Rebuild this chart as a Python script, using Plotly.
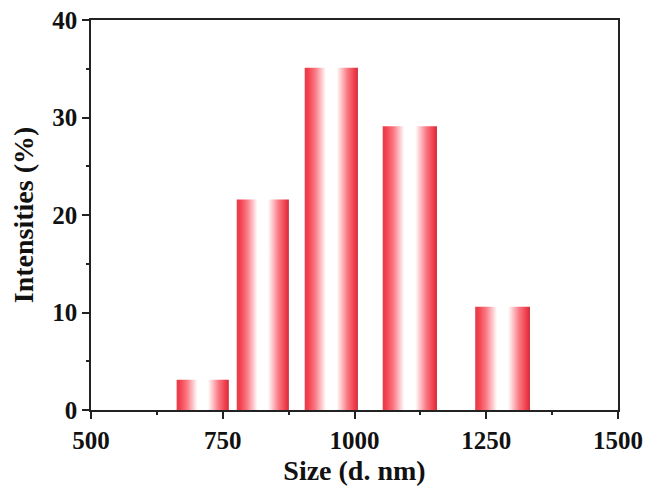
import plotly.graph_objects as go

# Particle size distribution (DLS), intensity-weighted
sizes = [712, 826, 956, 1105, 1281]          # bin centres, d. nm
widths = [99, 99, 101, 103, 104]             # bin widths, d. nm
intensities = [3.1, 21.6, 35.1, 29.1, 10.6]  # %

x_ticks = [500, 750, 1000, 1250, 1500]
y_ticks = [0, 10, 20, 30, 40]

# red - white - red shading across each bar
shade = [
    [0.0, "#e0404c"],
    [0.06, "#f43e4c"],
    [0.2, "#f97a84"],
    [0.4, "#ffffff"],
    [0.6, "#ffffff"],
    [0.8, "#f97a84"],
    [0.94, "#f03a48"],
    [1.0, "#c8303e"],
]

fig = go.Figure()
for c, w, h in zip(sizes, widths, intensities):
    x0, x1 = c - w / 2, c + w / 2
    fig.add_trace(go.Scatter(
        x=[x0, x0, x1, x1, x0],
        y=[0, h, h, 0, 0],
        mode="lines",
        line=dict(width=0),
        fill="toself",
        fillgradient=dict(type="horizontal", colorscale=shade),
        hoverinfo="skip",
        showlegend=False,
    ))

font_family = "Liberation Serif"
axis_common = dict(
    showline=True,
    linecolor="#222222",
    linewidth=1.5,
    mirror=True,
    ticks="outside",
    ticklen=7,
    tickwidth=1.5,
    tickcolor="#222222",
    showgrid=False,
    zeroline=False,
    automargin=False,
    tickfont=dict(family=font_family, size=25, color="#111111", weight="bold"),
)

fig.update_xaxes(
    range=[500, 1500],
    tickvals=x_ticks,
    ticktext=[str(v) for v in x_ticks],
    minor=dict(ticks="outside", dtick=125, tick0=500, ticklen=3, tickwidth=1.5,
               tickcolor="#222222", showgrid=False),
    title=dict(text="Size (d. nm)", standoff=8,
               font=dict(family=font_family, size=28, color="#111111", weight="bold")),
    **axis_common,
)
fig.update_yaxes(
    range=[0, 40],
    tickvals=y_ticks,
    ticktext=[str(v) for v in y_ticks],
    minor=dict(ticks="outside", dtick=5, tick0=0, ticklen=3, tickwidth=1.5,
               tickcolor="#222222", showgrid=False),
    title=dict(text="Intensities (%)", standoff=10,
               font=dict(family=font_family, size=28, color="#111111", weight="bold")),
    **axis_common,
)

fig.update_layout(
    width=646,
    height=488,
    margin=dict(l=91, r=28, t=20, b=78),
    paper_bgcolor="white",
    plot_bgcolor="white",
)

fig.write_html("out.html")
